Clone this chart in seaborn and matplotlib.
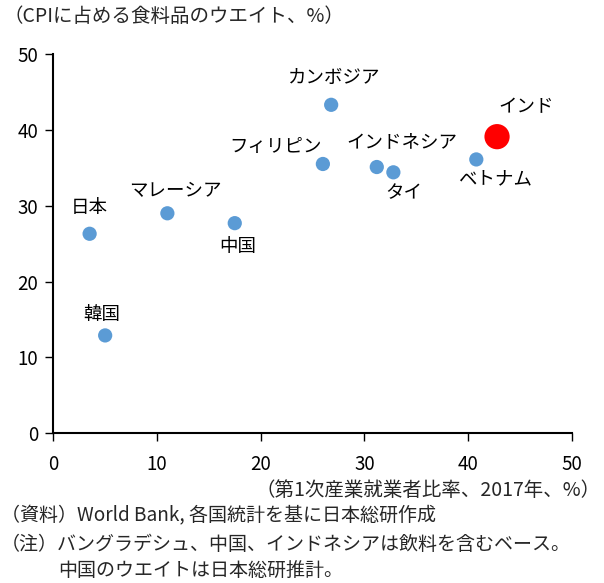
import matplotlib
matplotlib.use("Agg")
import matplotlib.pyplot as plt
import seaborn as sns
import pandas as pd

sns.set_theme(style="white")
plt.rcParams['font.family'] = ['Noto Sans CJK JP', 'DejaVu Sans']

countries = ["日本", "韓国", "マレーシア", "中国", "フィリピン", "カンボジア",
             "インドネシア", "タイ", "ベトナム", "インド"]
primary_share = [3.5, 5.0, 11.0, 17.5, 26.0, 26.8, 31.2, 32.8, 40.8, 42.8]
food_weight = [26.3, 12.9, 29.0, 27.7, 35.5, 43.3, 35.1, 34.4, 36.1, 39.1]
highlight = ["other"] * 9 + ["india"]

# label offsets in pixels (dx, dy)
label_offsets = [(0, 26), (-3, 20), (8, 22), (3, -24), (-47, 17), (3, 27),
                 (25, 25), (10, -21), (19, -20), (29, 30)]

df = pd.DataFrame({"country": countries, "x": primary_share,
                   "y": food_weight, "grp": highlight})

fig = plt.figure(figsize=(6.04, 5.83), dpi=100)
ax = fig.add_axes([0.0883, 0.2568, 0.8582, 0.6506])

sns.scatterplot(data=df[df.grp == "other"], x="x", y="y", ax=ax,
                color="#5B9BD5", s=105, edgecolor="none", legend=False)
sns.scatterplot(data=df[df.grp == "india"], x="x", y="y", ax=ax,
                color="#FF0000", s=330, edgecolor="none", legend=False)

for name, xv, yv, (dx, dy) in zip(countries, primary_share, food_weight, label_offsets):
    ax.annotate(name, (xv, yv), xytext=(dx, dy), textcoords="offset pixels",
                ha="center", va="center", fontsize=13.3, color="black")

ax.set_xlim(0, 50)
ax.set_ylim(0, 50)
ax.set_xticks(range(0, 51, 10))
ax.set_yticks(range(0, 51, 10))
ax.set_xlabel("")
ax.set_ylabel("")
ax.tick_params(axis="both", direction="out", length=6, width=1, color="black",
               labelsize=13.5, labelcolor="black", pad=5,
               bottom=True, left=True)
ax.tick_params(axis="x", pad=9)
for side in ["top", "right"]:
    ax.spines[side].set_visible(False)
for side in ["left", "bottom"]:
    ax.spines[side].set_color("black")
    ax.spines[side].set_linewidth(1.5)
ax.grid(False)

fig.text(0.006, 1 - 16 / 583, "（CPIに占める食料品のウエイト、%）", ha="left", va="center", fontsize=14)
fig.text(0.995, 1 - 490 / 583, "（第1次産業就業者比率、2017年、%）", ha="right", va="center", fontsize=14)
fig.text(0.002, 1 - 516 / 583, "（資料）World Bank, 各国統計を基に日本総研作成", ha="left", va="center", fontsize=13.7)
fig.text(0.002, 1 - 544 / 583, "（注）バングラデシュ、中国、インドネシアは飲料を含むベース。", ha="left", va="center", fontsize=13.7)
fig.text(58 / 604, 1 - 571 / 583, "中国のウエイトは日本総研推計。", ha="left", va="center", fontsize=13.7)

fig.savefig("out.png", dpi=100)
